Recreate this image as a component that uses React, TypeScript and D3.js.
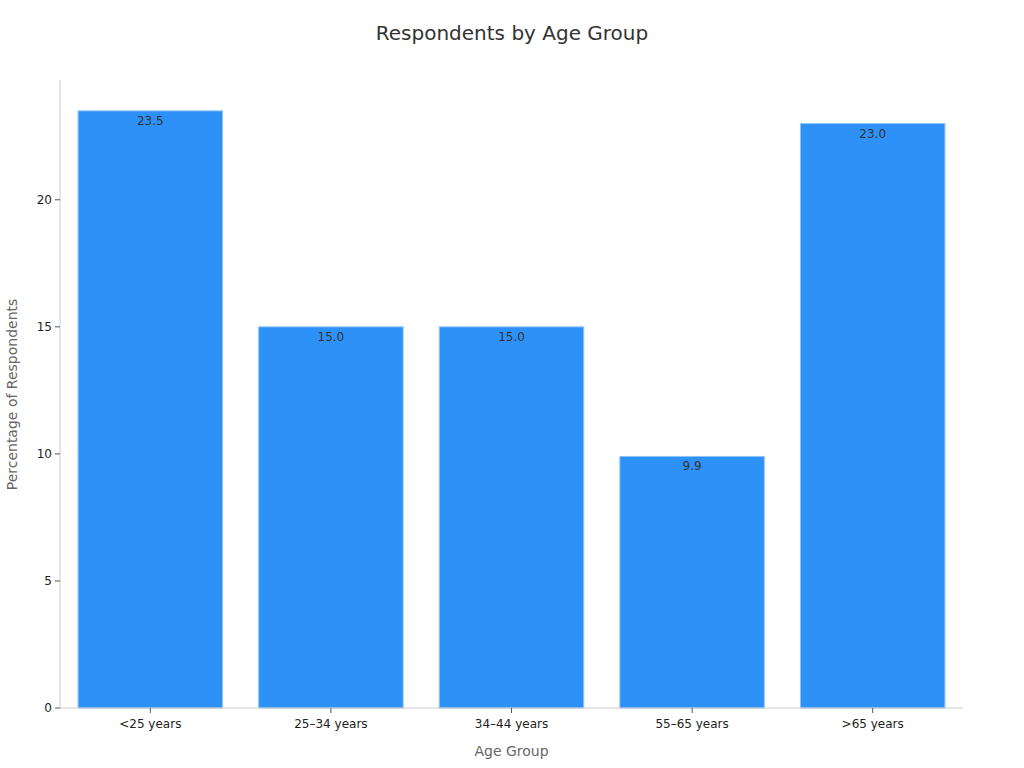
import React from "react";
import * as d3 from "d3";

const categories = ["<25 years", "25–34 years", "34–44 years", "55–65 years", ">65 years"];
const percentages = [23.5, 15.0, 15.0, 9.9, 23.0];
const yTicks = [0, 5, 10, 15, 20];

const W = 1024;
const H = 768;
const margin = { top: 81, right: 61, bottom: 60, left: 60 };
const FONT = "DejaVu Sans, sans-serif";

const App = () => {
  const innerW = W - margin.left - margin.right;
  const innerH = H - margin.top - margin.bottom;

  const x = d3
    .scaleBand<string>()
    .domain(categories)
    .range([0, innerW])
    .paddingInner(0.2)
    .paddingOuter(0.1);

  const y = d3
    .scaleLinear()
    .domain([0, (d3.max(percentages) as number) * 1.05])
    .range([innerH, 0]);

  return (
    <svg
      width={W}
      height={H}
      style={{ position: "absolute", left: 0, top: 0, fontFamily: FONT }}
    >
      <rect width={W} height={H} fill="#fff" />
      <text x={W / 2} y={40} textAnchor="middle" fontSize={20} fill="#333">
        Respondents by Age Group
      </text>
      <g transform={`translate(${margin.left},${margin.top})`}>
        {categories.map((c, i) => {
          const v = percentages[i];
          const bx = x(c) as number;
          return (
            <g key={c}>
              <rect
                x={bx}
                y={y(v)}
                width={x.bandwidth()}
                height={innerH - y(v)}
                fill="#2e91f8"
                stroke="#8cc4fb"
                strokeWidth={1}
              />
              <text
                x={bx + x.bandwidth() / 2}
                y={y(v) + 14}
                textAnchor="middle"
                fontSize={12}
                fill="#333"
              >
                {v.toFixed(1)}
              </text>
            </g>
          );
        })}
        {/* y axis */}
        <line x1={0} x2={0} y1={-1} y2={innerH} stroke="#ccc" />
        {yTicks.map((t) => (
          <g key={t} transform={`translate(0,${y(t)})`}>
            <line x1={-5} x2={0} stroke="#555" />
            <text x={-8} dy="0.35em" textAnchor="end" fontSize={12} fill="#222">
              {t}
            </text>
          </g>
        ))}
        {/* x axis */}
        <line x1={0} x2={innerW} y1={innerH} y2={innerH} stroke="#ccc" />
        {categories.map((c) => {
          const cx = (x(c) as number) + x.bandwidth() / 2;
          return (
            <g key={c} transform={`translate(${cx},${innerH})`}>
              <line y1={0} y2={5} stroke="#555" />
              <text y={20} textAnchor="middle" fontSize={12} fill="#222">
                {c}
              </text>
            </g>
          );
        })}
        <text x={innerW / 2} y={innerH + 48} textAnchor="middle" fontSize={14} fill="#666">
          Age Group
        </text>
        <text
          transform={`translate(${-43},${innerH / 2}) rotate(-90)`}
          textAnchor="middle"
          fontSize={14}
          fill="#666"
        >
          Percentage of Respondents
        </text>
      </g>
    </svg>
  );
};

export default App;
